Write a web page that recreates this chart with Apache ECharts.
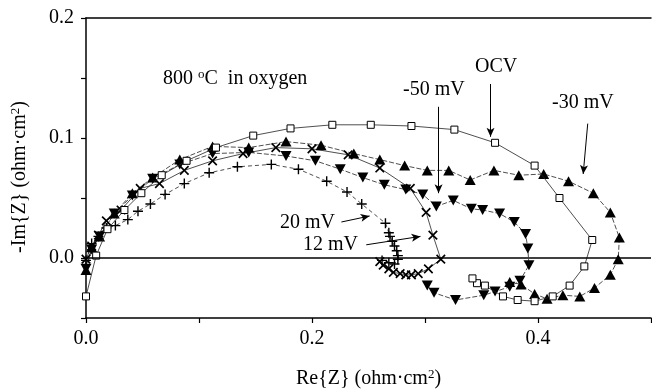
<!DOCTYPE html>
<html>
<head>
<meta charset="utf-8">
<script src="https://cdn.jsdelivr.net/npm/echarts@6/dist/echarts.min.js"></script>
<style>
  html, body { margin: 0; padding: 0; background: #fff; }
  #chart { width: 652px; height: 389px; }
</style>
</head>
<body>
<div id="chart"></div>
<script>
// impedance data (Re, -Im in ohm·cm2)
const ocvRe = [0.000, 0.009, 0.019, 0.034, 0.049, 0.067, 0.089, 0.115, 0.148, 0.181, 0.218, 0.252, 0.288, 0.326, 0.362, 0.397, 0.419, 0.448, 0.441, 0.428, 0.413, 0.397, 0.382, 0.369, 0.353, 0.346, 0.342];
const ocvIm = [-0.032, 0.002, 0.024, 0.040, 0.054, 0.069, 0.081, 0.092, 0.102, 0.108, 0.111, 0.111, 0.110, 0.107, 0.096, 0.077, 0.050, 0.015, -0.007, -0.023, -0.032, -0.036, -0.035, -0.032, -0.023, -0.021, -0.017];

const m30Re = [0.000, 0.005, 0.012, 0.025, 0.041, 0.059, 0.083, 0.112, 0.144, 0.177, 0.208, 0.237, 0.260, 0.282, 0.302, 0.321, 0.340, 0.361, 0.383, 0.405, 0.427, 0.449, 0.464, 0.472, 0.471, 0.464, 0.450, 0.437, 0.422, 0.408, 0.397, 0.385, 0.375];
const m30Im = [-0.010, 0.009, 0.018, 0.037, 0.054, 0.067, 0.082, 0.093, 0.092, 0.097, 0.094, 0.087, 0.082, 0.077, 0.073, 0.073, 0.065, 0.073, 0.069, 0.070, 0.064, 0.054, 0.038, 0.017, -0.001, -0.014, -0.025, -0.032, -0.031, -0.034, -0.030, -0.022, -0.020];

const m50Re = [0.000, 0.005, 0.012, 0.025, 0.041, 0.059, 0.083, 0.112, 0.144, 0.177, 0.203, 0.225, 0.245, 0.264, 0.283, 0.298, 0.310, 0.325, 0.341, 0.351, 0.366, 0.379, 0.389, 0.391, 0.392, 0.384, 0.375, 0.362, 0.352, 0.327, 0.308, 0.302];
const m50Im = [-0.009, 0.007, 0.018, 0.037, 0.052, 0.066, 0.078, 0.087, 0.088, 0.085, 0.081, 0.074, 0.067, 0.061, 0.057, 0.053, 0.043, 0.048, 0.041, 0.040, 0.037, 0.030, 0.020, 0.008, -0.006, -0.019, -0.024, -0.028, -0.031, -0.035, -0.029, -0.023];

const p12Re = [0.000, 0.005, 0.011, 0.018, 0.031, 0.048, 0.065, 0.087, 0.112, 0.139, 0.168, 0.200, 0.232, 0.260, 0.287, 0.301, 0.307, 0.314, 0.303, 0.294, 0.288, 0.283, 0.278, 0.272, 0.268, 0.263, 0.260];
const p12Im = [-0.001, 0.010, 0.019, 0.031, 0.040, 0.058, 0.062, 0.073, 0.081, 0.087, 0.092, 0.091, 0.086, 0.075, 0.058, 0.038, 0.019, -0.001, -0.009, -0.013, -0.014, -0.014, -0.013, -0.012, -0.009, -0.006, -0.003];

const p20Re = [0.000, 0.005, 0.011, 0.018, 0.026, 0.037, 0.046, 0.057, 0.070, 0.087, 0.109, 0.134, 0.164, 0.188, 0.213, 0.231, 0.244, 0.265, 0.268, 0.269, 0.271, 0.273, 0.275, 0.276, 0.276, 0.273, 0.268, 0.262];
const p20Im = [-0.002, 0.012, 0.018, 0.025, 0.027, 0.032, 0.039, 0.045, 0.053, 0.062, 0.071, 0.076, 0.078, 0.074, 0.064, 0.055, 0.045, 0.029, 0.021, 0.018, 0.014, 0.010, 0.006, 0.002, -0.001, -0.005, -0.004, -0.002];

// arrows: [label, tail, head] in data coordinates
const arrows = [
  ['OCV', [0.358, 0.145], [0.358, 0.101]],
  ['-50 mV', [0.312, 0.126], [0.312, 0.054]],
  ['-30 mV', [0.444, 0.112], [0.440, 0.070]],
  ['20 mV', [0.226, 0.030], [0.251, 0.035]],
  ['12 mV', [0.248, 0.011], [0.296, 0.018]]
];

const serif = 'Liberation Serif';
const zip = (a, b) => a.map((v, i) => [v, b[i]]);

const plusPath = 'path://M0.43,0H0.57V0.43H1V0.57H0.57V1H0.43V0.57H0V0.43H0.43Z';

function curve(name, re, im, symbol, size, opts) {
  return Object.assign({
    name: name,
    type: 'line',
    data: zip(re, im),
    symbol: symbol,
    symbolSize: size,
    showAllSymbol: true,
    lineStyle: { color: '#222', width: 0.8 },
    itemStyle: { color: '#000' },
    emphasis: { disabled: true },
    z: 3
  }, opts || {});
}

const chart = echarts.init(document.getElementById('chart'));

const option = {
  animation: false,
  backgroundColor: '#fff',
  grid: { left: 86, right: 1, top: 18, bottom: 71, outerBoundsMode: 'none' },
  xAxis: [{
    type: 'value',
    min: 0, max: 0.5, interval: 0.1,
    name: 'Re{Z} (ohm·cm{sup|2})',
    nameLocation: 'middle',
    nameGap: 50,
    nameTextStyle: {
      fontFamily: serif, fontSize: 20, color: '#000',
      rich: { sup: { fontFamily: serif, fontSize: 13, color: '#000', verticalAlign: 'top', padding: [0, 0, 8, 0] } }
    },
    axisLine: { onZero: false, lineStyle: { color: '#000', width: 1.5 } },
    axisTick: { inside: false, length: 5, lineStyle: { color: '#000', width: 1.2 } },
    splitLine: { show: false },
    axisLabel: {
      margin: 11, fontFamily: serif, fontSize: 20, color: '#000',
      formatter: v => (Math.round(v * 10) % 2 === 0 && v < 0.45) ? v.toFixed(1) : ''
    }
  }, {
    type: 'value', position: 'top',
    min: 0, max: 0.5,
    axisLine: { onZero: false, lineStyle: { color: '#000', width: 1.5 } },
    axisTick: { show: false }, axisLabel: { show: false }, splitLine: { show: false }
  }],
  yAxis: {
    type: 'value',
    min: -0.05, max: 0.2, interval: 0.05,
    name: '-Im{Z} (ohm·cm{sup|2})',
    nameLocation: 'middle',
    nameGap: 56,
    nameTextStyle: {
      fontFamily: serif, fontSize: 20, color: '#000',
      padding: [0, 18, 0, 0],
      rich: { sup: { fontFamily: serif, fontSize: 13, color: '#000', verticalAlign: 'top', padding: [0, 0, 8, 0] } }
    },
    axisLine: { onZero: false, lineStyle: { color: '#000', width: 1.5 } },
    axisTick: { inside: false, length: 5, lineStyle: { color: '#000', width: 1.2 } },
    splitLine: { show: false },
    axisLabel: {
      margin: 12, fontFamily: serif, fontSize: 20, color: '#000',
      formatter: v => (Math.abs(v * 10 - Math.round(v * 10)) < 1e-6 && v > -0.01) ? v.toFixed(1) : ''
    }
  },
  series: [
    curve('OCV', ocvRe, ocvIm, 'rect', 7, {
      itemStyle: { color: '#fff', borderColor: '#000', borderWidth: 1 },
      z: 4,
      markLine: {
        silent: true, symbol: 'none', animation: false,
        label: { show: false },
        lineStyle: { color: '#000', width: 1.5, type: 'solid' },
        data: [{ yAxis: 0 }]
      }
    }),
    curve('-30 mV', m30Re, m30Im, 'triangle', [11, 10], {
      lineStyle: { color: '#222', width: 0.8, type: [5, 2] }
    }),
    curve('-50 mV', m50Re, m50Im, 'triangle', [11, 10], {
      symbolRotate: 180,
      lineStyle: { color: '#222', width: 0.8, type: [5, 2] }
    }),
    curve('12 mV', p12Re, p12Im, plusPath, 12, { symbolRotate: 45 }),
    curve('20 mV', p20Re, p20Im, plusPath, 10, {
      lineStyle: { color: '#222', width: 0.8, type: [4, 3] }
    }),
    {
      name: 'arrows',
      type: 'line',
      data: [],
      markLine: {
        silent: true, animation: false,
        symbol: ['none', 'arrow'],
        symbolSize: [6, 9],
        label: { show: false },
        lineStyle: { color: '#000', width: 1, type: 'solid' },
        data: arrows.map(a => [{ coord: a[1] }, { coord: a[2] }])
      }
    }
  ],
  graphic: [
    { type: 'text', left: 163, top: 68, style: {
      text: '800 {sup|o}C  in oxygen', font: '20px "Liberation Serif"', fill: '#000',
      rich: { sup: { fontSize: 13, fontFamily: serif, verticalAlign: 'top', padding: [0, 0, 8, 0] } } } },
    { type: 'text', left: 475, top: 57, style: { text: 'OCV', font: '20px "Liberation Serif"', fill: '#000' } },
    { type: 'text', left: 403, top: 80, style: { text: '-50 mV', font: '20px "Liberation Serif"', fill: '#000' } },
    { type: 'text', left: 552, top: 93, style: { text: '-30 mV', font: '20px "Liberation Serif"', fill: '#000' } },
    { type: 'text', left: 280, top: 213, style: { text: '20 mV', font: '20px "Liberation Serif"', fill: '#000' } },
    { type: 'text', left: 303, top: 235, style: { text: '12 mV', font: '20px "Liberation Serif"', fill: '#000' } }
  ]
};

chart.setOption(option);
</script>
</body>
</html>
